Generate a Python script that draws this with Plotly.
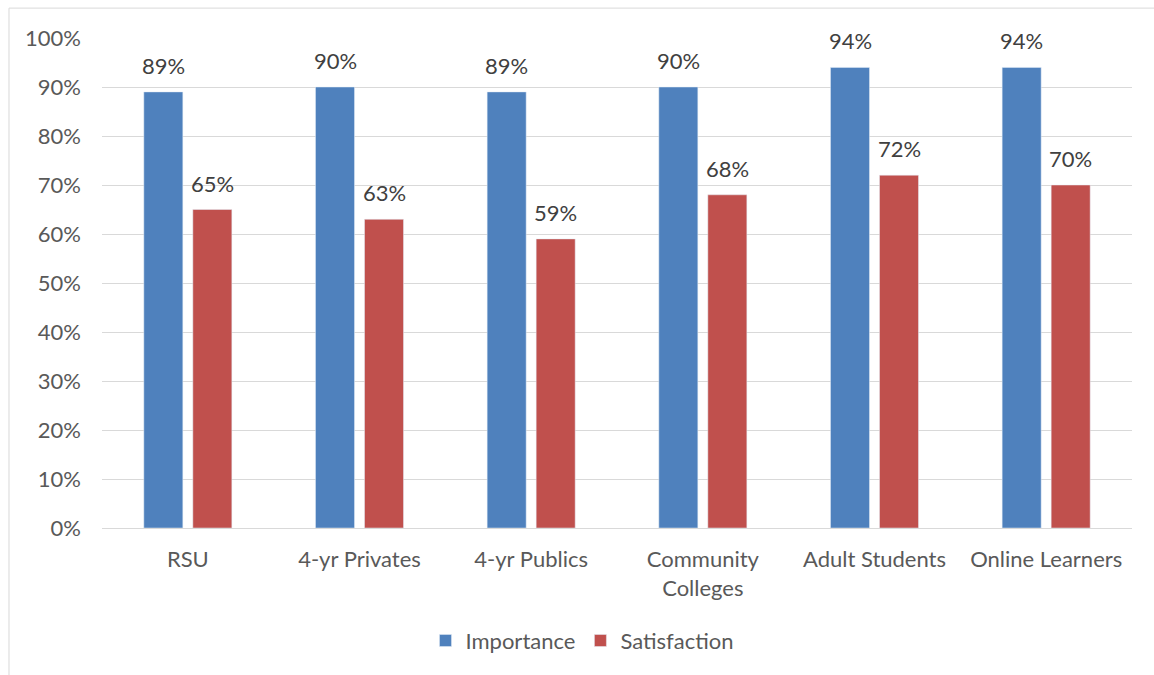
import plotly.graph_objects as go

categories = ["RSU", "4-yr Privates", "4-yr Publics", "Community<br>Colleges", "Adult Students", "Online Learners"]
importance = [0.89, 0.90, 0.89, 0.90, 0.94, 0.94]
satisfaction = [0.65, 0.63, 0.59, 0.68, 0.72, 0.70]
y_ticks = [i / 10 for i in range(11)]
y_tick_labels = [f"{i*10}%" for i in range(11)]

FONT = "Lato"
FS = 22
fig = go.Figure()
fig.add_trace(go.Bar(x=categories, y=importance, name="Importance", marker_color="#4F81BD"))
fig.add_trace(go.Bar(x=categories, y=satisfaction, name="Satisfaction", marker_color="#C0504D"))

annotations = []
for series, shift in ((importance, -24.5), (satisfaction, 24.5)):
    for c, v in zip(categories, series):
        annotations.append(dict(x=c, y=v, xref="x", yref="y", text=f"{round(v*100)}%",
                                showarrow=False, xshift=shift, yshift=11, yanchor="bottom",
                                font=dict(family=FONT, size=FS, color="#404040")))

fig.update_layout(
    width=1154, height=675,
    margin=dict(l=102, r=22, t=38, b=147),
    paper_bgcolor="white", plot_bgcolor="white",
    barmode="group", bargap=0.429, bargroupgap=0.204,
    font=dict(family=FONT, size=FS, color="#595959"),
    legend=dict(orientation="h", x=0.466, xanchor="center", y=-0.23, yanchor="middle",
                font=dict(size=FS, color="#595959"), itemwidth=30),
    showlegend=True,
    annotations=annotations,
    shapes=[dict(type="rect", xref="paper", yref="paper", x0=-0.0903, x1=1.2, y0=-0.5, y1=1.061,
                 line=dict(color="#D9D9D9", width=1), fillcolor="rgba(0,0,0,0)", layer="below")],
)
fig.update_xaxes(showgrid=False, showline=True, linecolor="#D9D9D9", linewidth=1,
                 ticks="", ticklabelstandoff=12, tickfont=dict(size=FS, color="#595959"))
fig.update_yaxes(range=[0, 1], tickvals=y_ticks, ticktext=y_tick_labels, showgrid=True,
                 gridcolor="#D9D9D9", gridwidth=1, zeroline=False, showline=False,
                 ticks="", ticklabelstandoff=20, tickfont=dict(size=FS, color="#595959"))

fig.write_html("out.html")
